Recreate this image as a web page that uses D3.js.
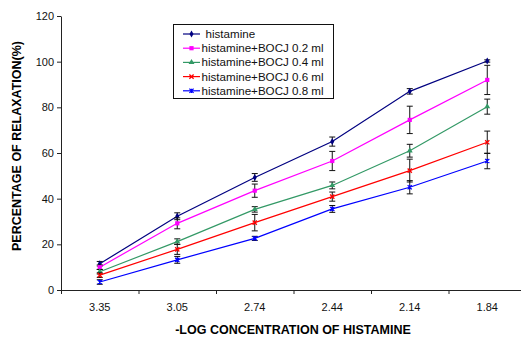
<!DOCTYPE html>
<html>
<head>
<meta charset="utf-8">
<script src="https://cdn.jsdelivr.net/npm/d3@7"></script>
<style>
  body { margin: 0; background: #fff; }
  svg { font-family: "Liberation Sans", Arial, sans-serif; }
</style>
</head>
<body>
<div id="chart"></div>
<script>
// -log concentration of histamine (categories)
const concentrations = ["3.35", "3.05", "2.74", "2.44", "2.14", "1.84"];
const seriesNames = ["histamine", "histamine+BOCJ 0.2 ml", "histamine+BOCJ 0.4 ml",
  "histamine+BOCJ 0.6 ml", "histamine+BOCJ 0.8 ml"];
const histamine = [11.5, 32.3, 49.3, 65, 87, 100.3];
const bocj02 = [10, 29.2, 43.5, 56.5, 74.5, 92];
const bocj04 = [8, 21.2, 35.3, 45.8, 61, 80.3];
const bocj06 = [6.5, 17.8, 29.5, 40.9, 52.3, 64.7];
const bocj08 = [3.5, 13.2, 22.6, 35.5, 45, 56.5];
const errHistamine = [1, 1.5, 1.7, 2, 1.2, 0.5];
const err02 = [1, 2.4, 2.9, 4.2, 6, 6.4];
const err04 = [1, 1.2, 1.2, 1.5, 2.8, 3.3];
const err06 = [1, 2.2, 3.6, 2, 5, 4.9];
const err08 = [1, 1.5, 0.9, 1.5, 2.9, 3.4];
const yTicks = [0, 20, 40, 60, 80, 100, 120];

const colors = ["#000080", "#ff00ff", "#339966", "#ff0000", "#0000ff"];
const markers = ["diamond", "square", "triangle", "cross", "star"];
const allValues = [histamine, bocj02, bocj04, bocj06, bocj08];
const allErrors = [errHistamine, err02, err04, err06, err08];

const width = 521, height = 339;
const plotLeft = 61, plotRight = 526, plotTop = 16, plotBottom = 290;

const svg = d3.select("#chart").append("svg")
  .attr("width", width)
  .attr("height", height);

const x = d3.scaleBand().domain(concentrations).range([plotLeft, plotRight]);
const y = d3.scaleLinear().domain([0, 120]).range([plotBottom, plotTop]);

// Y axis
const yAxis = svg.append("g")
  .attr("transform", "translate(" + plotLeft + ",0)")
  .call(d3.axisLeft(y).tickValues(yTicks).tickSize(4).tickSizeOuter(0));
yAxis.select(".domain").attr("stroke", "#222");
yAxis.selectAll(".tick line").attr("stroke", "#222");
yAxis.selectAll("text").attr("font-size", 11).attr("fill", "#111")
  .attr("font-family", "Liberation Sans, Arial, sans-serif").attr("x", -7);

// X axis: labels centred on bands, ticks on band boundaries
const xAxis = svg.append("g")
  .attr("transform", "translate(0," + plotBottom + ")")
  .call(d3.axisBottom(x).tickSize(0).tickPadding(13));
xAxis.select(".domain").attr("stroke", "#222");
xAxis.selectAll("text").attr("font-size", 11).attr("fill", "#111")
  .attr("font-family", "Liberation Sans, Arial, sans-serif");
const xEdge = d3.scaleLinear().domain([0, concentrations.length]).range([plotLeft, plotRight]);
svg.append("g")
  .attr("transform", "translate(0," + plotBottom + ")")
  .call(d3.axisBottom(xEdge).tickValues(d3.range(concentrations.length)).tickSize(4).tickFormat(""))
  .call(g => g.select(".domain").remove())
  .selectAll(".tick line").attr("stroke", "#222");

// Axis titles
svg.append("text")
  .attr("x", 293).attr("y", 334)
  .attr("text-anchor", "middle")
  .attr("font-size", 12.5).attr("font-weight", "bold")
  .text("-LOG CONCENTRATION OF HISTAMINE");
svg.append("text")
  .attr("transform", "translate(21,146) rotate(-90)")
  .attr("text-anchor", "middle")
  .attr("font-size", 12.5).attr("font-weight", "bold")
  .text("PERCENTAGE OF RELAXATION(%)");

const cx = d => x(d) + x.bandwidth() / 2;

function drawMarker(g, type, color, px, py) {
  const s = 2.1;
  if (type === "diamond") {
    g.append("path").attr("d", d3.symbol(d3.symbolDiamond, 14)())
      .attr("transform", "translate(" + px + "," + py + ")").attr("fill", color);
  } else if (type === "square") {
    g.append("rect").attr("x", px - s).attr("y", py - s).attr("width", 2 * s).attr("height", 2 * s)
      .attr("fill", color);
  } else if (type === "triangle") {
    g.append("path").attr("d", d3.symbol(d3.symbolTriangle, 15)())
      .attr("transform", "translate(" + px + "," + py + ")").attr("fill", color);
  } else if (type === "cross") {
    g.append("path").attr("d", "M" + (px - s) + "," + (py - s) + "L" + (px + s) + "," + (py + s) +
      "M" + (px - s) + "," + (py + s) + "L" + (px + s) + "," + (py - s))
      .attr("stroke", color).attr("stroke-width", 1.3);
  } else {
    g.append("path").attr("d", "M" + (px - s) + "," + (py - s) + "L" + (px + s) + "," + (py + s) +
      "M" + (px - s) + "," + (py + s) + "L" + (px + s) + "," + (py - s) +
      "M" + px + "," + (py - s) + "L" + px + "," + (py + s))
      .attr("stroke", color).attr("stroke-width", 1.2);
  }
}

const line = d3.line().x((d, i) => cx(concentrations[i])).y(d => y(d));

allValues.forEach((vals, k) => {
  const g = svg.append("g");
  g.append("path").datum(vals)
    .attr("d", line)
    .attr("fill", "none")
    .attr("stroke", colors[k])
    .attr("stroke-width", 1.2);
  // error bars
  vals.forEach((v, i) => {
    const px = cx(concentrations[i]);
    const e = allErrors[k][i];
    const y1 = y(v + e), y2 = y(v - e);
    g.append("line").attr("x1", px).attr("x2", px).attr("y1", y1).attr("y2", y2)
      .attr("stroke", "#111").attr("stroke-width", 1);
    [y1, y2].forEach(yy => g.append("line").attr("x1", px - 3).attr("x2", px + 3)
      .attr("y1", yy).attr("y2", yy).attr("stroke", "#111").attr("stroke-width", 1));
  });
  vals.forEach((v, i) => drawMarker(g, markers[k], colors[k], cx(concentrations[i]), y(v)));
});

// Legend
const legend = svg.append("g");
legend.append("rect")
  .attr("x", 173.5).attr("y", 24.5).attr("width", 160).attr("height", 74)
  .attr("fill", "#fff").attr("stroke", "#111").attr("stroke-width", 1);
seriesNames.forEach((name, k) => {
  const ly = 34 + k * 14.2;
  legend.append("line").attr("x1", 183).attr("x2", 200).attr("y1", ly).attr("y2", ly)
    .attr("stroke", colors[k]).attr("stroke-width", 1.2);
  drawMarker(legend, markers[k], colors[k], 191.5, ly);
  legend.append("text")
    .attr("x", k === 0 ? 205.5 : 201.5).attr("y", ly + 4)
    .attr("font-size", 11.6).attr("fill", "#111")
    .text(name);
});
</script>
</body>
</html>
